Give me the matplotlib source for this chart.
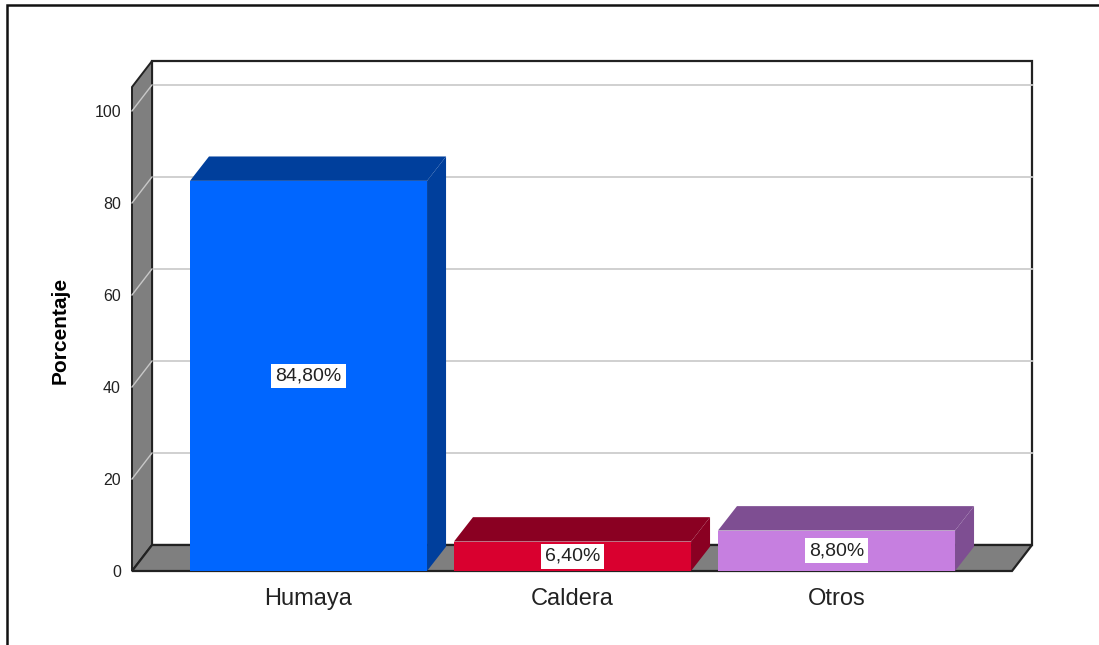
import matplotlib.pyplot as plt
from matplotlib.patches import Polygon, Rectangle

plt.rcParams['font.family'] = ['Liberation Sans', 'DejaVu Sans']

# Data
categories = ['Humaya', 'Caldera', 'Otros']
values = [84.80, 6.40, 8.80]
front_colors = ['#0066ff', '#d9002f', '#c67fe0']
dark_colors = ['#003f9c', '#8a0022', '#7e4e92']
yticks = [0, 20, 40, 60, 80, 100]

# 3D look
x0, x1 = -0.6686, 2.6648
ytop = 105.2
DX, DY = 0.0758, 5.65      # depth of walls
BDX, BDY = 0.072, 5.3      # depth of bars
W = 0.898

fig = plt.figure(figsize=(10.99, 6.45), dpi=100)
ax = fig.add_axes([132 / 1099, 74 / 645, 880 / 1099, 484 / 645])
ax.set_xlim(x0, x1)
ax.set_ylim(0, ytop)
for s in ax.spines.values():
    s.set_visible(False)

# back wall
ax.add_patch(Rectangle((x0 + DX, DY), x1 - x0, ytop, facecolor='white',
                       edgecolor='#222222', lw=1.6, clip_on=False, zorder=1))
# grid on back wall and left wall
for v in yticks[1:]:
    ax.plot([x0 + DX, x1 + DX], [v + DY, v + DY], color='#cdcdcd', lw=1.3,
            clip_on=False, zorder=2)
# left wall
ax.add_patch(Polygon([(x0, 0), (x0, ytop), (x0 + DX, ytop + DY), (x0 + DX, DY)],
                     closed=True, facecolor='#7f7f7f', edgecolor='#222222',
                     lw=1.4, clip_on=False, zorder=3))
for v in yticks[1:]:
    ax.plot([x0, x0 + DX], [v, v + DY], color='#c8c8c8', lw=1.0,
            clip_on=False, zorder=3.5)
# floor
ax.add_patch(Polygon([(x0, 0), (x1, 0), (x1 + DX, DY), (x0 + DX, DY)],
                     closed=True, facecolor='#7f7f7f', edgecolor='#222222',
                     lw=1.6, clip_on=False, zorder=4))

# bars
for i, (v, fc, dc) in enumerate(zip(values, front_colors, dark_colors)):
    xl, xr = i - W / 2, i + W / 2
    ax.add_patch(Polygon([(xl, v), (xr, v), (xr + BDX, v + BDY), (xl + BDX, v + BDY)],
                         closed=True, facecolor=dc, edgecolor='none',
                         clip_on=False, zorder=5))
    ax.add_patch(Polygon([(xr, 0), (xr + BDX, BDY), (xr + BDX, v + BDY), (xr, v)],
                         closed=True, facecolor=dc, edgecolor='none',
                         clip_on=False, zorder=5))
    ax.add_patch(Rectangle((xl, 0), W, v, facecolor=fc, edgecolor='none',
                           clip_on=False, zorder=6))
    ax.text(i, v / 2, f"{v:.2f}%".replace('.', ','), ha='center', va='center',
            fontsize=14, color='#222222', zorder=7,
            bbox=dict(boxstyle='square,pad=0.2', facecolor='white', edgecolor='none'))

ax.set_yticks(yticks)
ax.set_yticklabels([str(t) for t in yticks], fontsize=11.5, color='#222222')
ax.set_xticks(range(len(categories)))
ax.set_xticklabels(categories, fontsize=17, color='#222222')
ax.tick_params(axis='y', length=0, pad=8)
ax.tick_params(axis='x', length=0, pad=12)

fig.text(60 / 1099, 1 - 330 / 645, 'Porcentaje', rotation=90, ha='center',
         va='center', fontsize=15, fontweight='bold')

# outer frame (only top and left visible)
fig.patches.append(Rectangle((7 / 1099, -0.1), 1.2, 1.1 - 5 / 645,
                             transform=fig.transFigure, fill=False,
                             edgecolor='#111111', lw=1.8))

fig.savefig('out.png', dpi=100)
